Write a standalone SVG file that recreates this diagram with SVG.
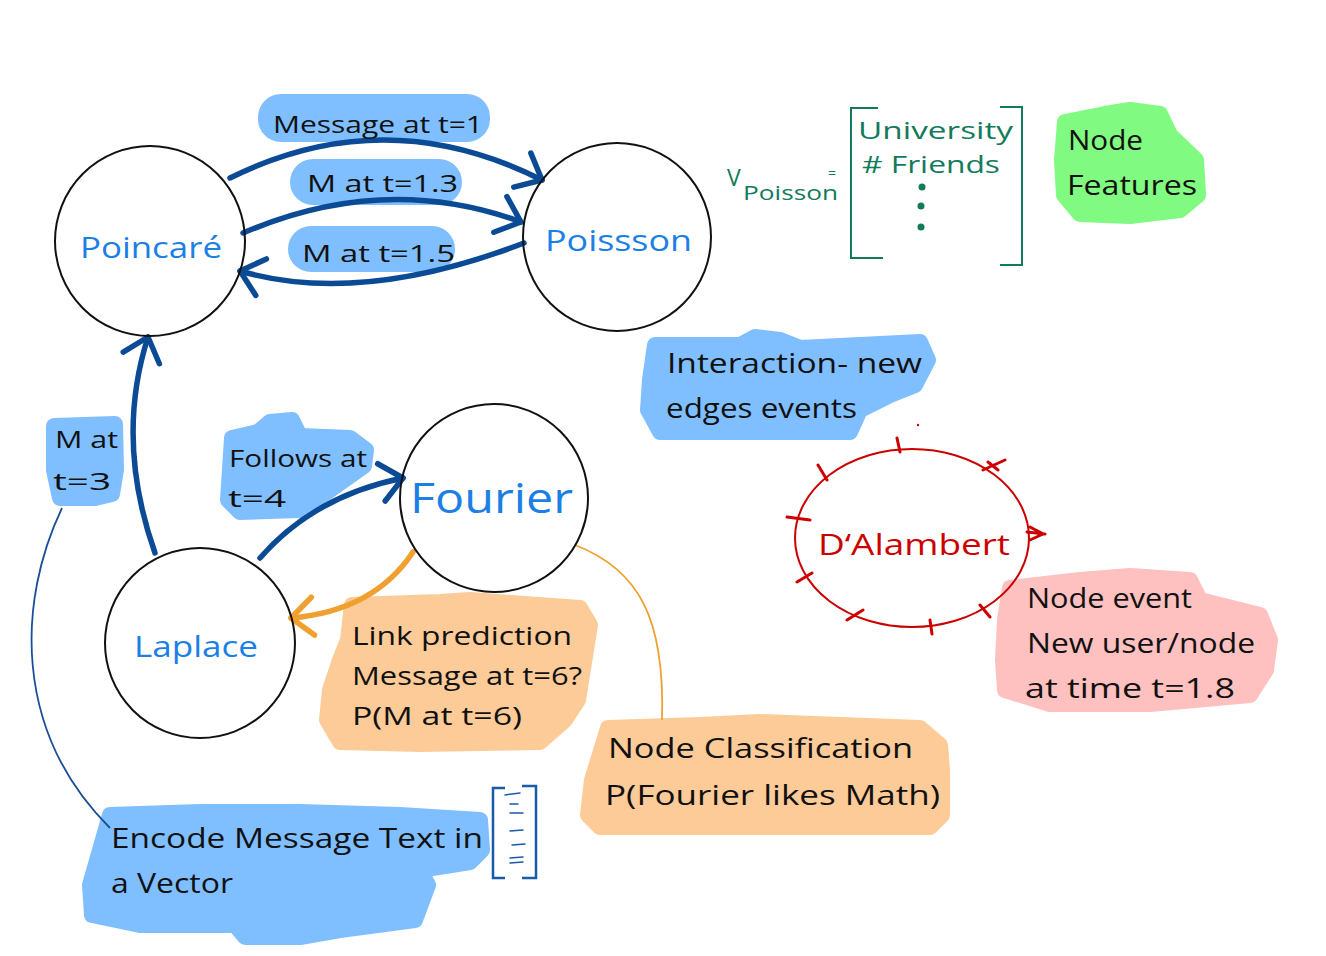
<svg xmlns="http://www.w3.org/2000/svg" width="1326" height="956" viewBox="0 0 1326 956">
<style>
text{font-family:"Open Sans","Liberation Sans",sans-serif;}
.hb{fill:#80bfff;stroke:#80bfff;stroke-width:16;stroke-linejoin:round}
.ho{fill:#fdcb98;stroke:#fdcb98;stroke-width:16;stroke-linejoin:round}
.hp{fill:#ffc0c0;stroke:#ffc0c0;stroke-width:16;stroke-linejoin:round}
.hg{fill:#80fa80;stroke:#80fa80;stroke-width:16;stroke-linejoin:round}
.node{fill:none;stroke:#111;stroke-width:2}
.nt{fill:#1b7fe6;font-size:30px}
.lt{fill:#111;font-size:24px}
.lt2{fill:#111;font-size:28px}
.gt{fill:#137a5c;font-size:24px}
.edge{fill:none;stroke:#0b4a94;stroke-width:5.5;stroke-linecap:round}
.oedge{fill:none;stroke:#f0a030;stroke-width:5.5;stroke-linecap:round}
.gb{fill:none;stroke:#137a5c;stroke-width:2}
.bb{fill:none;stroke:#1a5aa8;stroke-width:2.5}
.tick{fill:none;stroke:#cc0000;stroke-width:3;stroke-linecap:round}
</style>
<defs>
<marker id="ab" markerUnits="userSpaceOnUse" markerWidth="40" markerHeight="40" viewBox="-30 -20 40 40" refX="0" refY="0" orient="auto" overflow="visible">
<path d="M-22,-19 L0,0 L-22,19" fill="none" stroke="#0b4a94" stroke-width="5.5" stroke-linecap="round" stroke-linejoin="round"/>
</marker>
<marker id="ao" markerUnits="userSpaceOnUse" markerWidth="40" markerHeight="40" viewBox="-30 -20 40 40" refX="0" refY="0" orient="auto" overflow="visible">
<path d="M-22,-19 L0,0 L-22,19" fill="none" stroke="#f0a030" stroke-width="5.5" stroke-linecap="round" stroke-linejoin="round"/>
</marker>
</defs>
<rect width="1326" height="956" fill="#ffffff"/>

<!-- highlight blobs -->
<g id="highlights">
<rect class="hb" x="266" y="102" width="216" height="32" rx="15"/>
<rect class="hb" x="298" y="167" width="156" height="30" rx="15"/>
<rect class="hb" x="296" y="234" width="151" height="30" rx="15"/>
<path class="hb" d="M54,426 L115,424 L116,470 L112,494 L95,498 L60,498 L54,470 Z"/>
<path class="hb" d="M232,438 L258,432 L270,422 L292,420 L300,436 L350,438 L366,450 L364,466 L330,490 L300,510 L240,512 L228,500 Z"/>
<path class="hb" d="M655,345 L740,345 L755,337 L780,340 L800,348 L920,342 L928,360 L915,385 L890,395 L860,410 L850,432 L660,432 L648,410 L650,380 Z"/>
<path class="ho" d="M352,605 L440,602 L470,600 L580,608 L590,625 L586,650 L578,700 L565,720 L540,742 L420,744 L340,742 L327,720 L330,690 L340,660 L348,640 Z"/>
<path class="ho" d="M608,728 L700,725 L760,722 L920,728 L940,745 L942,770 L942,815 L930,827 L600,827 L588,815 L592,780 Z"/>
<path class="hp" d="M1010,588 L1080,580 L1130,576 L1190,580 L1200,600 L1260,615 L1270,640 L1266,670 L1250,695 L1150,704 L1050,704 L1005,690 L1003,660 L1005,620 Z"/>
<path class="hb" d="M110,815 L200,812 L300,812 L400,815 L480,820 L482,850 L470,862 L420,870 L428,885 L415,920 L340,930 L300,937 L245,937 L235,925 L140,925 L92,915 L90,885 L100,850 Z"/>
<path class="hg" d="M1065,122 L1105,114 L1130,110 L1160,114 L1170,135 L1196,160 L1198,195 L1180,210 L1130,216 L1080,214 L1064,195 L1062,160 Z"/>
</g>

<!-- connectors -->
<g id="connectors">
<path class="edge" d="M230,178 Q385,101 542,180" marker-end="url(#ab)"/>
<path class="edge" d="M243,233 Q385,172 521,222" marker-end="url(#ab)"/>
<path class="edge" d="M524,243 Q360,306 240,271" marker-end="url(#ab)"/>
<path class="edge" d="M155,553 Q115,440 148,337" marker-end="url(#ab)"/>
<path class="edge" d="M260,558 Q314,496 403,478" marker-end="url(#ab)"/>
<path class="oedge" d="M413,552 Q374,611 291,618" marker-end="url(#ao)"/>
<path d="M575,545 C640,570 665,620 662,720" fill="none" stroke="#f0a030" stroke-width="1.8"/>
<path d="M62,508 C18,600 12,730 110,828" fill="none" stroke="#1a4f96" stroke-width="1.8"/>
</g>

<g id="poincare">
<circle class="node" cx="150" cy="241" r="95"/>
<text class="nt" x="80" y="258" textLength="142" lengthAdjust="spacingAndGlyphs">Poincaré</text>
</g>
<g id="poissson">
<circle class="node" cx="617" cy="237" r="94"/>
<text class="nt" x="545" y="251" textLength="147" lengthAdjust="spacingAndGlyphs">Poissson</text>
</g>
<g id="fourier">
<circle class="node" cx="494" cy="498" r="94"/>
<text class="nt" x="410" y="513" style="font-size:42px" textLength="163" lengthAdjust="spacingAndGlyphs">Fourier</text>
</g>
<g id="laplace">
<circle class="node" cx="200" cy="643" r="95"/>
<text class="nt" x="134" y="657" textLength="124" lengthAdjust="spacingAndGlyphs">Laplace</text>
</g>
<g id="dalambert">
<ellipse cx="912" cy="538" rx="117" ry="89" fill="none" stroke="#cc0000" stroke-width="2"/>
<path class="tick" d="M897,438 L900,452 M818,465 L827,480 M787,517 L810,520 M797,582 L812,573 M847,620 L863,610 M930,620 L932,634 M980,605 L990,617 M1027,532 L1045,534 M1030,527 L1043,534 L1030,540 M983,470 L1005,460 M988,462 L998,470"/>
<circle cx="918" cy="425" r="1.2" fill="#cc0000"/>
<text x="818" y="555" style="fill:#cc0000;font-size:30px" textLength="192" lengthAdjust="spacingAndGlyphs">D‘Alambert</text>
</g>

<!-- labels -->
<g id="labels">
<text class="lt" x="273" y="133" textLength="210" lengthAdjust="spacingAndGlyphs">Message at t=1</text>
<text class="lt" x="307" y="192" textLength="151" lengthAdjust="spacingAndGlyphs">M at t=1.3</text>
<text class="lt" x="302" y="262" textLength="153" lengthAdjust="spacingAndGlyphs">M at t=1.5</text>
<text class="lt" x="55" y="448" textLength="63" lengthAdjust="spacingAndGlyphs">M at</text>
<text class="lt" x="53" y="490" textLength="58" lengthAdjust="spacingAndGlyphs">t=3</text>
<text class="lt" x="229" y="467" textLength="138" lengthAdjust="spacingAndGlyphs">Follows at</text>
<text class="lt" x="228" y="507" textLength="58" lengthAdjust="spacingAndGlyphs">t=4</text>
<text class="lt2" x="667" y="373" textLength="255" lengthAdjust="spacingAndGlyphs">Interaction- new</text>
<text class="lt2" x="666" y="418" textLength="191" lengthAdjust="spacingAndGlyphs">edges events</text>
<text class="lt2" x="352" y="645" style="font-size:26px" textLength="220" lengthAdjust="spacingAndGlyphs">Link prediction</text>
<text class="lt2" x="352" y="685" style="font-size:26px" textLength="230" lengthAdjust="spacingAndGlyphs">Message at t=6?</text>
<text class="lt2" x="352" y="725" style="font-size:26px" textLength="170" lengthAdjust="spacingAndGlyphs">P(M at t=6)</text>
<text class="lt2" x="608" y="758" textLength="305" lengthAdjust="spacingAndGlyphs">Node Classification</text>
<text class="lt2" x="605" y="805" textLength="335" lengthAdjust="spacingAndGlyphs">P(Fourier likes Math)</text>
<text class="lt2" x="1027" y="608" textLength="165" lengthAdjust="spacingAndGlyphs">Node event</text>
<text class="lt2" x="1027" y="653" textLength="228" lengthAdjust="spacingAndGlyphs">New user/node</text>
<text class="lt2" x="1025" y="698" textLength="210" lengthAdjust="spacingAndGlyphs">at time t=1.8</text>
<text class="lt2" x="111" y="848" textLength="372" lengthAdjust="spacingAndGlyphs">Encode Message Text in</text>
<text class="lt2" x="111" y="893" textLength="122" lengthAdjust="spacingAndGlyphs">a Vector</text>
<text class="lt2" x="1068" y="150" textLength="75" lengthAdjust="spacingAndGlyphs">Node</text>
<text class="lt2" x="1067" y="195" textLength="130" lengthAdjust="spacingAndGlyphs">Features</text>
</g>

<!-- feature vector -->
<g id="feature-vector">
<text class="gt" x="727" y="186" style="font-size:23px">V</text>
<text class="gt" x="743" y="200" style="font-size:20px" textLength="95" lengthAdjust="spacingAndGlyphs">Poisson</text>
<text class="gt" x="828" y="178" style="font-size:14px">=</text>
<path class="gb" d="M878,108 L851,108 L851,258 L883,258 M1000,107 L1022,107 L1022,265 L1000,265"/>
<text class="gt" x="858" y="139" textLength="155" lengthAdjust="spacingAndGlyphs">University</text>
<text class="gt" x="862" y="173" textLength="138" lengthAdjust="spacingAndGlyphs"># Friends</text>
<circle cx="922" cy="187" r="3.5" fill="#137a5c"/>
<circle cx="921" cy="206" r="3.5" fill="#137a5c"/>
<circle cx="921" cy="227" r="3.5" fill="#137a5c"/>
</g>

<g id="text-vector">
<path class="bb" d="M505,788 L493,788 L493,878 L505,878 M522,786 L536,786 L536,878 L522,878"/>
<path d="M505,795 L520,793 M510,804 L518,804 M510,813 L523,813 M510,831 L523,830 M512,845 L525,844 M510,858 L523,857 M510,863 L523,862" fill="none" stroke="#1a5aa8" stroke-width="1.5" stroke-linecap="round"/>
</g>
</svg>
